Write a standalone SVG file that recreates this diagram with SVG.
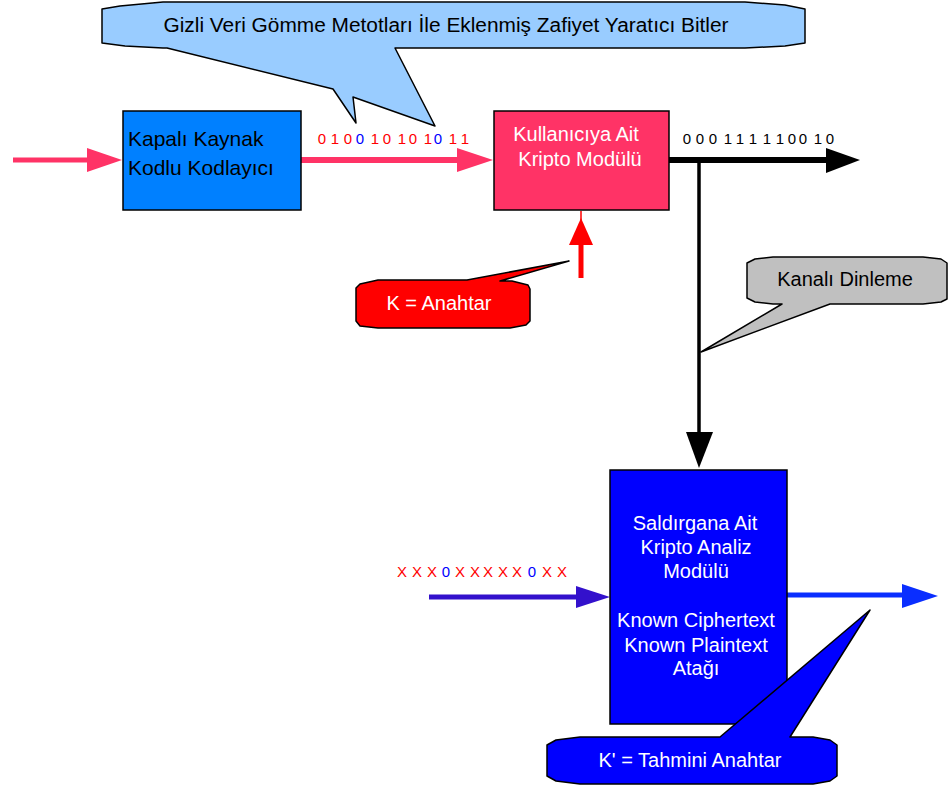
<svg xmlns="http://www.w3.org/2000/svg" width="949" height="787" viewBox="0 0 949 787">
  <defs>
    <style>
      .lbl { font-family: "Liberation Sans", Arial, sans-serif; font-size: 20px; }
      .big { font-size: 21px; }
      .bits { font-family: "Liberation Sans", Arial, sans-serif; font-size: 15px; text-anchor: middle; }
      .box { stroke: #000; stroke-width: 1.5; }
      .callout { stroke: #000; stroke-width: 1.5; stroke-linejoin: round; }
      .w { fill: #fff; }
      .k { fill: #000; }
      .r { fill: #ff0000; }
      .b { fill: #0000ff; }
      .mid { text-anchor: middle; }
    </style>
  </defs>

  <rect width="949" height="787" fill="#fff"/>

  <!-- connectors -->
  <g id="connectors">
    <!-- input into encoder -->
    <line x1="13" y1="160" x2="90" y2="160" stroke="#ff3366" stroke-width="5"/>
    <polygon points="87,148 122,160 87,172" fill="#ff3366"/>
    <!-- encoder to crypto module -->
    <line x1="301" y1="160" x2="460" y2="160" stroke="#ff3366" stroke-width="6"/>
    <polygon points="457,148 493,160 457,172" fill="#ff3366"/>
    <!-- crypto module output -->
    <line x1="669" y1="160" x2="830" y2="160" stroke="#000" stroke-width="6"/>
    <polygon points="826,148 860,160 826,173" fill="#000"/>
    <!-- tap down to attacker module -->
    <line x1="699" y1="160" x2="699" y2="436" stroke="#000" stroke-width="3.5"/>
    <polygon points="686,432 713,432 699,468" fill="#000"/>
    <!-- key into crypto module -->
    <line x1="581" y1="245" x2="581" y2="278" stroke="#ff0000" stroke-width="5"/>
    <line x1="581" y1="211" x2="581" y2="220" stroke="#ff0000" stroke-width="1.5"/>
    <polygon points="569,245 593,245 581,218" fill="#ff0000"/>
    <!-- attacker input -->
    <line x1="429" y1="597" x2="580" y2="597" stroke="#3311cc" stroke-width="5"/>
    <polygon points="576,586 610,597 576,608" fill="#3311cc"/>
    <!-- attacker output -->
    <line x1="787" y1="595" x2="905" y2="595" stroke="#0a2eff" stroke-width="5"/>
    <polygon points="902,584 938,596 902,608" fill="#0a2eff"/>
  </g>

  <!-- bit streams -->
  <g id="bits-plain">
    <text class="bits" y="144">
      <tspan class="r" x="322">0</tspan><tspan class="r" x="335">1</tspan><tspan class="r" x="348">0</tspan><tspan class="b" x="360">0</tspan><tspan class="r" x="375">1</tspan><tspan class="r" x="387">0</tspan><tspan class="r" x="402">1</tspan><tspan class="r" x="413">0</tspan><tspan class="r" x="428">1</tspan><tspan class="b" x="438">0</tspan><tspan class="r" x="453">1</tspan><tspan class="r" x="465">1</tspan>
    </text>
  </g>
  <g id="bits-cipher">
    <text class="bits k" y="144" x="687 700 713 728 740 753 767 780 792 803 818 830">000111110010</text>
  </g>
  <g id="bits-guess">
    <text class="bits" y="577">
      <tspan class="r" x="402">X</tspan><tspan class="r" x="417">X</tspan><tspan class="r" x="432">X</tspan><tspan class="b" x="446">0</tspan><tspan class="r" x="460">X</tspan><tspan class="r" x="475">X</tspan><tspan class="r" x="488">X</tspan><tspan class="r" x="503">X</tspan><tspan class="r" x="517">X</tspan><tspan class="b" x="532">0</tspan><tspan class="r" x="547">X</tspan><tspan class="r" x="562">X</tspan>
    </text>
  </g>

  <!-- nodes -->
  <g id="encoder">
    <rect class="box" x="123" y="111" width="178" height="99" fill="#0080ff"/>
    <text class="lbl big k" x="128" y="146">Kapalı Kaynak</text>
    <text class="lbl big k" x="128" y="175">Kodlu Kodlayıcı</text>
  </g>

  <g id="user-crypto">
    <rect class="box" x="494" y="111" width="175" height="99" fill="#ff3366"/>
    <text class="lbl w mid" x="576" y="141">Kullanıcıya Ait</text>
    <text class="lbl w mid" x="580" y="166">Kripto Modülü</text>
  </g>

  <g id="attacker-crypto">
    <rect class="box" x="610" y="470" width="177" height="254" fill="#0000ff"/>
    <text class="lbl w mid" x="695" y="530">Saldırgana Ait</text>
    <text class="lbl w mid" x="696" y="554">Kripto Analiz</text>
    <text class="lbl w mid" x="696" y="578">Modülü</text>
    <text class="lbl w mid" x="696" y="627">Known Ciphertext</text>
    <text class="lbl w mid" x="696" y="652">Known Plaintext</text>
    <text class="lbl w mid" x="696" y="675">Atağı</text>
  </g>

  <!-- callouts -->
  <g id="callout-bits">
    <path class="callout" fill="#99ccff" d="M163,2 H745 L785,5 L805,9 V43 L785,46 L745,48 H395 L435,126 L353,97 L356,123 L333,89 L167,48 H163 L125,46 L102,43 V9 L120,6 Z"/>
    <text class="lbl k mid" x="446" y="32" textLength="565" lengthAdjust="spacingAndGlyphs">Gizli Veri Gömme Metotları İle Eklenmiş Zafiyet Yaratıcı Bitler</text>
  </g>

  <g id="callout-key">
    <path class="callout" fill="#ff0000" d="M378,280 H467 L569,261 L500,281 H512 L528,285 L530,289 V321 L526,325 L510,328 H378 L360,326 L356,321 V288 L360,284 Z"/>
    <text class="lbl w mid" x="439" y="310">K = Anahtar</text>
  </g>

  <g id="callout-tap">
    <path class="callout" fill="#c0c0c0" d="M773,257 H923 L941,259 L947,263 V299 L941,302 L923,304 H830 L701,352 L782,304 H773 L755,302 L747,298 V263 L755,259 Z"/>
    <text class="lbl k mid" x="845" y="286">Kanalı Dinleme</text>
  </g>

  <g id="callout-guess">
    <path class="callout" fill="#0000ff" d="M580,737 H720 L870,610 L790,737 H813 L830,740 L837,745 V776 L830,781 L813,784 H580 L556,781 L547,776 V745 L556,740 Z"/>
    <text class="lbl w mid" x="690" y="767">K' = Tahmini Anahtar</text>
  </g>
</svg>
